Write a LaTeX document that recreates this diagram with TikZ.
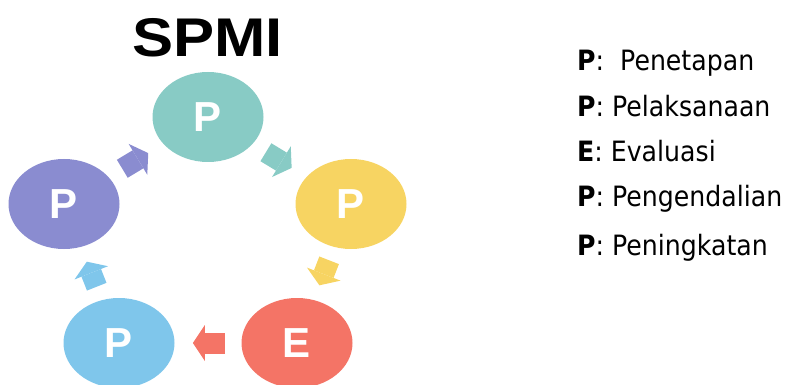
\documentclass[tikz,border=0pt]{standalone}
\usepackage{fontspec}
\usetikzlibrary{shapes.geometric,arrows.meta,calc}
\newfontfamily\headfont{Liberation Sans}
\newfontfamily\listfont{DejaVu Sans}

\definecolor{cteal}{RGB}{136,203,197}
\definecolor{cyellow}{RGB}{247,212,98}
\definecolor{cred}{RGB}{244,116,102}
\definecolor{cblue}{RGB}{127,198,235}
\definecolor{cpurple}{RGB}{138,140,208}

% one legend line, slightly condensed
\newcommand{\legendline}[2]{\scalebox{0.9}[1]{\textbf{#1}:#2}}

\tikzset{
  phase/.style={ellipse, draw=none, inner sep=0pt,
    minimum width=111pt, minimum height=90pt,
    text=white, font=\headfont\bfseries\fontsize{42}{42}\selectfont},
  blockarrow/.style={line width=21pt,
    -{Triangle[length=12pt,width=36pt,line width=0pt]}},
  legend/.style={anchor=base west, inner sep=0pt,
    font=\listfont\fontsize{28}{28}\selectfont},
}

\begin{document}
\begin{tikzpicture}[x=1pt,y=-1pt]
  \useasboundingbox (0,0) rectangle (790,385);

  % title
  \node[anchor=base, inner sep=0pt,
        font=\headfont\bfseries\fontsize{54.5}{54.5}\selectfont]
    (title) at (207.5,57) {\scalebox{1.13}[1]{SPMI}};

  % the five phases of the cycle
  \node[phase, fill=cteal]   (pen) at (208,117) {P};
  \node[phase, fill=cyellow] (pel) at (351,204) {P};
  \node[phase, fill=cred]    (eva) at (297,343) {E};
  \node[phase, fill=cblue]   (pgd) at (119,343) {P};
  \node[phase, fill=cpurple] (pgk) at (64,204)  {P};

  % arrows between consecutive phases
  \draw[blockarrow, cteal]   ($(pen)!0.405!(pel)$) -- ($(pen)!0.585!(pel)$);
  \draw[blockarrow, cyellow] ($(pel)!0.405!(eva)$) -- ($(pel)!0.585!(eva)$);
  \draw[blockarrow, cred]    ($(eva)!0.405!(pgd)$) -- ($(eva)!0.585!(pgd)$);
  \draw[blockarrow, cblue]   ($(pgd)!0.405!(pgk)$) -- ($(pgd)!0.585!(pgk)$);
  \draw[blockarrow, cpurple] ($(pgk)!0.405!(pen)$) -- ($(pgk)!0.585!(pen)$);

  % legend
  \node[legend] (l1) at (577,71)  {\legendline{P}{\ \ Penetapan}};
  \node[legend] (l2) at (577,117) {\legendline{P}{ Pelaksanaan}};
  \node[legend] (l3) at (577,162) {\legendline{E}{ Evaluasi}};
  \node[legend] (l4) at (577,206) {\legendline{P}{ Pengendalian}};
  \node[legend] (l5) at (577,255) {\legendline{P}{ Peningkatan}};
\end{tikzpicture}
\end{document}
